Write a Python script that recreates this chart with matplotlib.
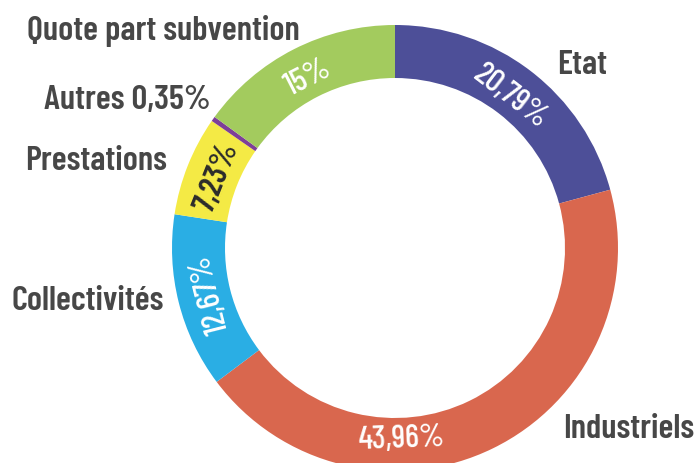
import numpy as np
import matplotlib.pyplot as plt

# données (en %)
categories = ['Etat', 'Industriels', 'Collectivités', 'Prestations', 'Autres', 'Quote part subvention']
values = [20.79, 43.96, 12.67, 7.23, 0.35, 15.00]
pct_labels = ['20,79%', '43,96%', '12,67%', '7,23%', '', '15%']
cat_labels = ['Etat', 'Industriels', 'Collectivités', 'Prestations', 'Autres 0,35%', 'Quote part subvention']

colors = ['#4d4f98', '#d9674e', '#2aaee4', '#f4ea45', '#7d3f98', '#a3cb5e']
pct_colors = ['white', 'white', 'white', '#2b2b2b', 'white', 'white']

font = ['Barlow Condensed', 'DejaVu Sans']

W, H = 699, 463
fig = plt.figure(figsize=(W / 100, H / 100), dpi=100)
ax = fig.add_axes([0, 0, 1, 1])

cx, cy = 395, H - 248
R, ring = 223, 53
ax.pie(values, colors=colors, startangle=90, counterclock=False,
       radius=R, center=(cx, cy), wedgeprops=dict(width=ring, linewidth=0))
ax.set_xlim(0, W)
ax.set_ylim(0, H)
ax.set_aspect('equal')
ax.axis('off')

# étiquettes des pourcentages, tangentes à l'anneau
ends = 90 - np.cumsum(values) * 3.6
mids = ends + np.array(values) * 1.8
mids[1] = -88  # "43,96%" placé en bas, à l'horizontale
r_lab = 191
for lab, th, col in zip(pct_labels, mids, pct_colors):
    if not lab:
        continue
    rot = (th - 90 + 180) % 360 - 180
    if abs(rot) > 120:
        rot = (rot + 360) % 360 - 180
    t = np.radians(th)
    w = 600 if col != 'white' else 500
    ax.text(cx + r_lab * np.cos(t), cy + r_lab * np.sin(t), lab,
            rotation=rot, ha='center', va='center', rotation_mode='anchor',
            color=col, fontsize=23.5, fontweight=w, family=font)

# noms des catégories (position en pixels de l'image)
cat_pos = {
    'Etat': (582, 66),
    'Industriels': (629, 430),
    'Collectivités': (88, 302),
    'Prestations': (96, 161),
    'Autres 0,35%': (127, 101),
    'Quote part subvention': (163, 31),
}
for lab in cat_labels:
    x, y = cat_pos[lab]
    ax.text(x, H - y, lab, ha='center', va='center', color='#474747',
            fontsize=25, fontweight=600, family=font)

fig.savefig('out.png', dpi=100)
